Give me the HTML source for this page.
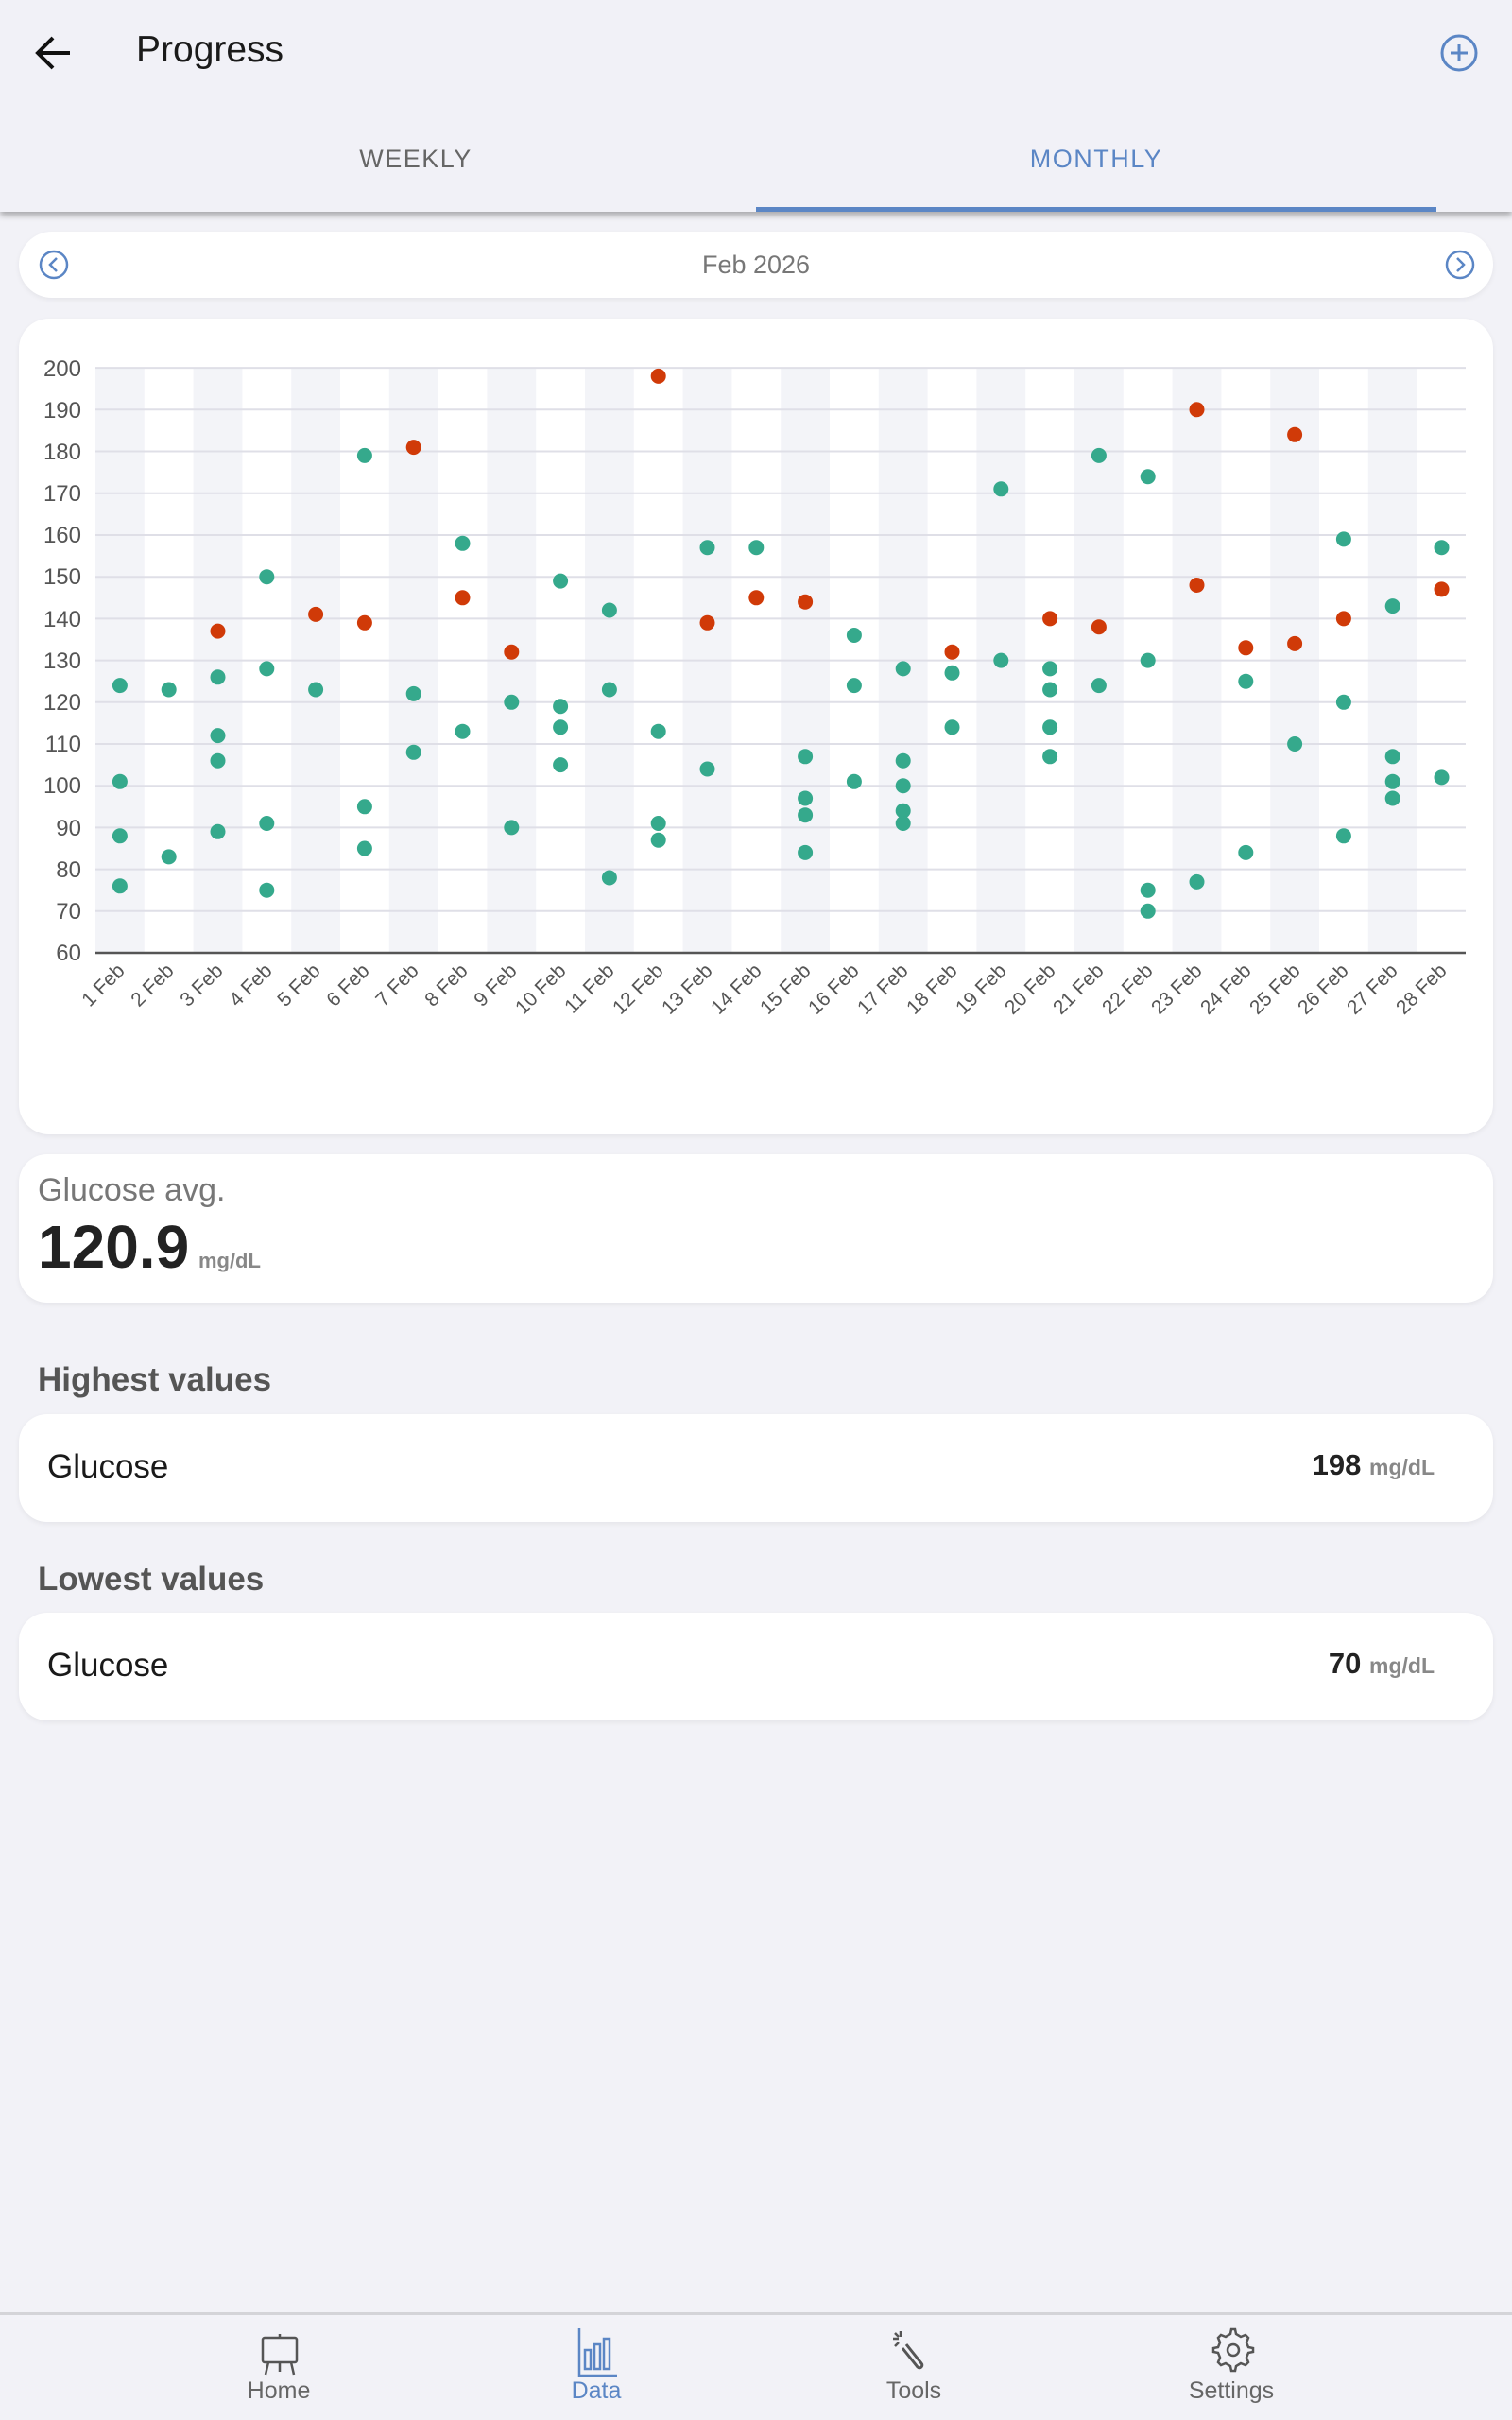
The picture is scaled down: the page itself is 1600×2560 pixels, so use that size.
<!DOCTYPE html>
<html><head><meta charset="utf-8"><style>
*{margin:0;padding:0;box-sizing:border-box}
body{width:1600px;height:2560px;background:#f2f2f7;font-family:"Liberation Sans",sans-serif;position:relative;overflow:hidden}
.abs{position:absolute}
.card{position:absolute;background:#fff;left:20px;width:1560px;box-shadow:0 2px 6px rgba(0,0,0,0.06)}
.g{fill:#35a98c}.r{fill:#d03a08}
</style></head><body>
<div class="abs" style="left:0;top:0;width:1600px;height:224px;background:#f1f1f7;box-shadow:0 4px 6px rgba(0,0,0,0.3)"></div>
<svg class="abs" style="left:34px;top:36px" width="44" height="40" viewBox="0 0 44 40"><path d="M40 20H6M22 4L6 20l16 16" stroke="#111" stroke-width="4" fill="none"/></svg>
<div class="abs" style="left:144px;top:31px;font-size:39px;color:#1a1a1a">Progress</div>
<svg class="abs" style="left:1523px;top:35px" width="42" height="42"><circle cx="21" cy="21" r="18" stroke="#5b86c5" stroke-width="3" fill="none"/><path d="M21 12v18M12 21h18" stroke="#5b86c5" stroke-width="3"/></svg>
<div class="abs" style="left:240px;width:400px;top:153px;text-align:center;font-size:27px;letter-spacing:1.5px;color:#666">WEEKLY</div>
<div class="abs" style="left:960px;width:400px;top:153px;text-align:center;font-size:27px;letter-spacing:1.5px;color:#5b86c5">MONTHLY</div>
<div class="abs" style="left:800px;top:219px;width:720px;height:5px;background:#5b86c5"></div>

<div class="card" style="top:245px;height:70px;border-radius:35px"></div>
<svg class="abs" style="left:40px;top:263px" width="34" height="34"><circle cx="17" cy="17" r="14" stroke="#5b86c5" stroke-width="2.5" fill="none"/><path d="M20 10l-7 7 7 7" stroke="#5b86c5" stroke-width="2.5" fill="none"/></svg>
<svg class="abs" style="left:1528px;top:263px" width="34" height="34"><circle cx="17" cy="17" r="14" stroke="#5b86c5" stroke-width="2.5" fill="none"/><path d="M14 10l7 7-7 7" stroke="#5b86c5" stroke-width="2.5" fill="none"/></svg>
<div class="abs" style="left:0;width:1600px;top:265px;text-align:center;font-size:27px;color:#777">Feb 2026</div>

<div class="card" style="top:337px;height:863px;border-radius:32px"></div>
<svg class="abs" style="left:0;top:0" width="1600" height="1200">
<g fill="#f3f4f8">
<rect x="101" y="389" width="51.8" height="619"/><rect x="204.6" y="389" width="51.8" height="619"/><rect x="308.2" y="389" width="51.8" height="619"/><rect x="411.8" y="389" width="51.8" height="619"/><rect x="515.4" y="389" width="51.8" height="619"/><rect x="619" y="389" width="51.8" height="619"/><rect x="722.6" y="389" width="51.8" height="619"/><rect x="826.2" y="389" width="51.8" height="619"/><rect x="929.8" y="389" width="51.8" height="619"/><rect x="1033.4" y="389" width="51.8" height="619"/><rect x="1137" y="389" width="51.8" height="619"/><rect x="1240.6" y="389" width="51.8" height="619"/><rect x="1344.2" y="389" width="51.8" height="619"/><rect x="1447.8" y="389" width="51.8" height="619"/>
</g>
<g stroke="#dfdfe7" stroke-width="2">
<path d="M101 963.8H1551M101 919.6H1551M101 875.4H1551M101 831.2H1551M101 787H1551M101 742.8H1551M101 698.6H1551M101 654.4H1551M101 610.2H1551M101 566H1551M101 521.7H1551M101 477.5H1551M101 433.3H1551M101 389.1H1551"/>
</g>
<path d="M101 1008H1551" stroke="#555" stroke-width="2.5"/>
<g font-size="24" fill="#555" text-anchor="end">
<text x="86" y="1016">60</text><text x="86" y="972">70</text><text x="86" y="928">80</text><text x="86" y="884">90</text><text x="86" y="839">100</text><text x="86" y="795">110</text><text x="86" y="751">120</text><text x="86" y="707">130</text><text x="86" y="663">140</text><text x="86" y="618">150</text><text x="86" y="574">160</text><text x="86" y="530">170</text><text x="86" y="486">180</text><text x="86" y="442">190</text><text x="86" y="398">200</text>
</g>
<g font-size="21" fill="#555" text-anchor="end">
<text transform="translate(133,1028) rotate(-45)">1 Feb</text><text transform="translate(185,1028) rotate(-45)">2 Feb</text><text transform="translate(237,1028) rotate(-45)">3 Feb</text><text transform="translate(289,1028) rotate(-45)">4 Feb</text><text transform="translate(340,1028) rotate(-45)">5 Feb</text><text transform="translate(392,1028) rotate(-45)">6 Feb</text><text transform="translate(444,1028) rotate(-45)">7 Feb</text><text transform="translate(496,1028) rotate(-45)">8 Feb</text><text transform="translate(548,1028) rotate(-45)">9 Feb</text><text transform="translate(600,1028) rotate(-45)">10 Feb</text><text transform="translate(651,1028) rotate(-45)">11 Feb</text><text transform="translate(703,1028) rotate(-45)">12 Feb</text><text transform="translate(755,1028) rotate(-45)">13 Feb</text><text transform="translate(807,1028) rotate(-45)">14 Feb</text><text transform="translate(859,1028) rotate(-45)">15 Feb</text><text transform="translate(910,1028) rotate(-45)">16 Feb</text><text transform="translate(962,1028) rotate(-45)">17 Feb</text><text transform="translate(1014,1028) rotate(-45)">18 Feb</text><text transform="translate(1066,1028) rotate(-45)">19 Feb</text><text transform="translate(1118,1028) rotate(-45)">20 Feb</text><text transform="translate(1169,1028) rotate(-45)">21 Feb</text><text transform="translate(1221,1028) rotate(-45)">22 Feb</text><text transform="translate(1273,1028) rotate(-45)">23 Feb</text><text transform="translate(1325,1028) rotate(-45)">24 Feb</text><text transform="translate(1377,1028) rotate(-45)">25 Feb</text><text transform="translate(1428,1028) rotate(-45)">26 Feb</text><text transform="translate(1480,1028) rotate(-45)">27 Feb</text><text transform="translate(1532,1028) rotate(-45)">28 Feb</text>
</g>
<g class="g">
<circle cx="126.9" cy="725.1" r="8"/><circle cx="126.9" cy="826.8" r="8"/><circle cx="126.9" cy="884.3" r="8"/><circle cx="126.9" cy="937.3" r="8"/>
<circle cx="178.7" cy="729.5" r="8"/><circle cx="178.7" cy="906.4" r="8"/>
<circle cx="230.5" cy="716.3" r="8"/><circle cx="230.5" cy="778.1" r="8"/><circle cx="230.5" cy="804.7" r="8"/><circle cx="230.5" cy="879.8" r="8"/>
<circle cx="282.3" cy="610.2" r="8"/><circle cx="282.3" cy="707.4" r="8"/><circle cx="282.3" cy="871" r="8"/><circle cx="282.3" cy="941.7" r="8"/>
<circle cx="334.1" cy="729.5" r="8"/>
<circle cx="385.9" cy="481.9" r="8"/><circle cx="385.9" cy="853.3" r="8"/><circle cx="385.9" cy="897.5" r="8"/>
<circle cx="437.7" cy="733.9" r="8"/><circle cx="437.7" cy="795.8" r="8"/>
<circle cx="489.5" cy="574.8" r="8"/><circle cx="489.5" cy="773.7" r="8"/>
<circle cx="541.3" cy="742.8" r="8"/><circle cx="541.3" cy="875.4" r="8"/>
<circle cx="593.1" cy="614.6" r="8"/><circle cx="593.1" cy="747.2" r="8"/><circle cx="593.1" cy="769.3" r="8"/><circle cx="593.1" cy="809.1" r="8"/>
<circle cx="644.9" cy="645.5" r="8"/><circle cx="644.9" cy="729.5" r="8"/><circle cx="644.9" cy="928.5" r="8"/>
<circle cx="696.7" cy="773.7" r="8"/><circle cx="696.7" cy="871" r="8"/><circle cx="696.7" cy="888.7" r="8"/>
<circle cx="748.5" cy="579.2" r="8"/><circle cx="748.5" cy="813.5" r="8"/>
<circle cx="800.3" cy="579.2" r="8"/>
<circle cx="852.1" cy="800.3" r="8"/><circle cx="852.1" cy="844.5" r="8"/><circle cx="852.1" cy="862.2" r="8"/><circle cx="852.1" cy="901.9" r="8"/>
<circle cx="903.9" cy="672" r="8"/><circle cx="903.9" cy="725.1" r="8"/><circle cx="903.9" cy="826.8" r="8"/>
<circle cx="955.7" cy="707.4" r="8"/><circle cx="955.7" cy="804.7" r="8"/><circle cx="955.7" cy="831.2" r="8"/><circle cx="955.7" cy="857.7" r="8"/><circle cx="955.7" cy="871" r="8"/>
<circle cx="1007.5" cy="711.8" r="8"/><circle cx="1007.5" cy="769.3" r="8"/>
<circle cx="1059.3" cy="517.3" r="8"/><circle cx="1059.3" cy="698.6" r="8"/>
<circle cx="1111.1" cy="707.4" r="8"/><circle cx="1111.1" cy="729.5" r="8"/><circle cx="1111.1" cy="769.3" r="8"/><circle cx="1111.1" cy="800.3" r="8"/>
<circle cx="1162.9" cy="481.9" r="8"/><circle cx="1162.9" cy="725.1" r="8"/>
<circle cx="1214.7" cy="504.2" r="8"/><circle cx="1214.7" cy="698.6" r="8"/><circle cx="1214.7" cy="941.7" r="8"/><circle cx="1214.7" cy="963.8" r="8"/>
<circle cx="1266.5" cy="932.9" r="8"/>
<circle cx="1318.3" cy="720.7" r="8"/><circle cx="1318.3" cy="901.9" r="8"/>
<circle cx="1370.1" cy="787" r="8"/>
<circle cx="1421.9" cy="570.4" r="8"/><circle cx="1421.9" cy="742.8" r="8"/><circle cx="1421.9" cy="884.3" r="8"/>
<circle cx="1473.7" cy="641.1" r="8"/><circle cx="1473.7" cy="800.3" r="8"/><circle cx="1473.7" cy="826.8" r="8"/><circle cx="1473.7" cy="844.5" r="8"/>
<circle cx="1525.5" cy="579.2" r="8"/><circle cx="1525.5" cy="822.4" r="8"/>
</g>
<g class="r">
<circle cx="230.5" cy="667.6" r="8"/><circle cx="334.1" cy="649.9" r="8"/><circle cx="385.9" cy="658.8" r="8"/><circle cx="437.7" cy="473.1" r="8"/><circle cx="489.5" cy="632.3" r="8"/><circle cx="541.3" cy="689.7" r="8"/><circle cx="696.7" cy="397.9" r="8"/><circle cx="748.5" cy="658.8" r="8"/><circle cx="800.3" cy="632.3" r="8"/><circle cx="852.1" cy="636.7" r="8"/><circle cx="1007.5" cy="689.7" r="8"/><circle cx="1111.1" cy="654.4" r="8"/><circle cx="1162.9" cy="663.2" r="8"/><circle cx="1266.5" cy="433.3" r="8"/><circle cx="1266.5" cy="619" r="8"/><circle cx="1318.3" cy="685.3" r="8"/><circle cx="1370.1" cy="459.8" r="8"/><circle cx="1370.1" cy="680.9" r="8"/><circle cx="1421.9" cy="654.4" r="8"/><circle cx="1525.5" cy="623.4" r="8"/>
</g>
</svg>

<div class="card" style="top:1221px;height:157px;border-radius:30px"></div>
<div class="abs" style="left:40px;top:1240px;font-size:34px;color:#777">Glucose avg.</div>
<div class="abs" style="left:40px;top:1282px;font-size:64px;font-weight:bold;color:#222">120.9 <span style="font-size:22px;color:#888;margin-left:-8px">mg/dL</span></div>

<div class="abs" style="left:40px;top:1440px;font-size:35px;font-weight:bold;color:#555">Highest values</div>
<div class="card" style="top:1496px;height:114px;border-radius:30px"></div>
<div class="abs" style="left:50px;top:1532px;font-size:35px;color:#1a1a1a">Glucose</div>
<div class="abs" style="right:82px;top:1532px;font-size:31px;font-weight:bold;color:#222">198 <span style="font-size:23px;color:#888">mg/dL</span></div>

<div class="abs" style="left:40px;top:1651px;font-size:35px;font-weight:bold;color:#555">Lowest values</div>
<div class="card" style="top:1706px;height:114px;border-radius:30px"></div>
<div class="abs" style="left:50px;top:1742px;font-size:35px;color:#1a1a1a">Glucose</div>
<div class="abs" style="right:82px;top:1742px;font-size:31px;font-weight:bold;color:#222">70 <span style="font-size:23px;color:#888">mg/dL</span></div>

<div class="abs" style="left:0;top:2446px;width:1600px;height:3px;background:#d4d4d8"></div>
<svg class="abs" style="left:0;top:2460px" width="1600" height="60">
<g stroke="#555" stroke-width="2.5" fill="none">
<rect x="278" y="13" width="36" height="26" rx="2"/><path d="M296 9v4M284 39l-3 13M308 39l3 13M296 39v10"/>
<path d="M959 20l16 20a2 2 0 0 1-4 4l-16-20" stroke-width="3"/><path d="M953 6v6M945 14h6M947 8l4 4M947 22l4-4"/>
<path d="M1303 4l4 0 1 5 5 3 5-2 3 3-2 5 2 5 5 1v4l-5 1-2 5 2 5-3 3-5-2-5 3-1 5h-4l-1-5-5-3-5 2-3-3 2-5-2-5-5-1v-4l5-1 2-5-2-5 3-3 5 2 5-3z"/><circle cx="1305" cy="26" r="6"/>
</g>
<g stroke="#5b86c5" stroke-width="2.5" fill="none"><path d="M613 3v50h40"/><rect x="619" y="26" width="6" height="20"/><rect x="629" y="20" width="6" height="26"/><rect x="639" y="14" width="6" height="32"/></g>
</svg>
<div class="abs" style="left:195px;width:200px;top:2515px;text-align:center;font-size:25px;color:#666">Home</div>
<div class="abs" style="left:531px;width:200px;top:2515px;text-align:center;font-size:25px;color:#5b86c5">Data</div>
<div class="abs" style="left:867px;width:200px;top:2515px;text-align:center;font-size:25px;color:#666">Tools</div>
<div class="abs" style="left:1203px;width:200px;top:2515px;text-align:center;font-size:25px;color:#666">Settings</div>
</body></html>
